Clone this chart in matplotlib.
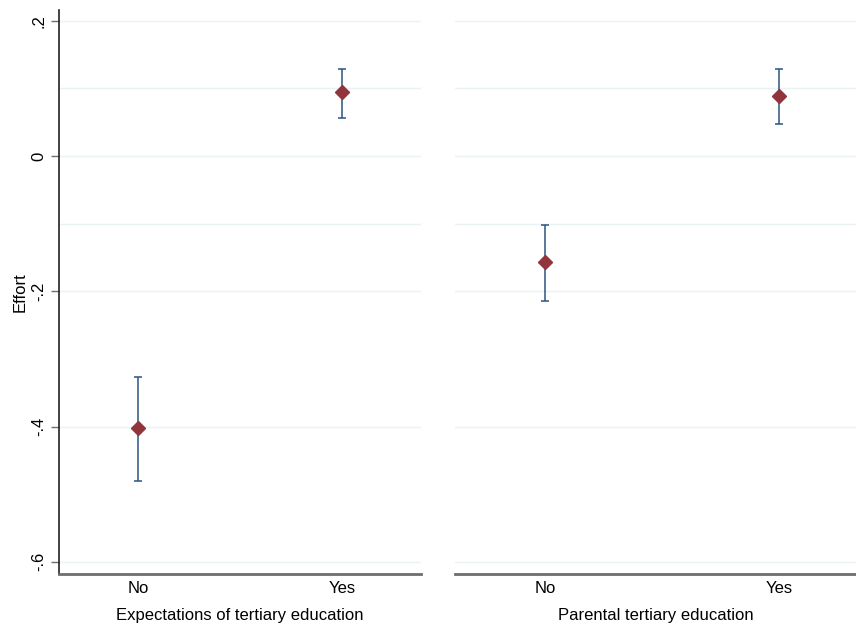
import matplotlib
matplotlib.use("Agg")
import matplotlib.pyplot as plt

plt.rcParams['font.family'] = ['Liberation Sans', 'DejaVu Sans']

# data
categories = ["No", "Yes"]
panel_titles = ["Expectations of tertiary education", "Parental tertiary education"]

exp_mean = [-0.402, 0.095]
exp_lo = [-0.481, 0.057]
exp_hi = [-0.326, 0.129]

par_mean = [-0.157, 0.089]
par_lo = [-0.214, 0.048]
par_hi = [-0.102, 0.129]

yticks = [0.2, 0.0, -0.2, -0.4, -0.6]
ytick_labels = [".2", "0", "-.2", "-.4", "-.6"]
grid_vals = [0.2, 0.1, 0.0, -0.1, -0.2, -0.4, -0.6]

marker_col = "#90353b"
bar_col = "#2a5580"
grid_col = "#eaf2f3"
axis_col = "#6e6e6e"

fig = plt.figure(figsize=(8.56, 6.25), dpi=100)
ax1 = fig.add_axes([59 / 856, 51 / 625, 362 / 856, 564 / 625])
ax2 = fig.add_axes([455 / 856, 51 / 625, 401 / 856, 564 / 625])


def draw_panel(ax, mean, lo, hi, xlabel, xlim):
    xs = list(range(len(categories)))
    for v in grid_vals:
        ax.axhline(v, color=grid_col, lw=1.0, zorder=0)
    yerr = [[m - l for m, l in zip(mean, lo)], [h - m for m, h in zip(mean, hi)]]
    ax.errorbar(xs, mean, yerr=yerr, fmt="none", ecolor=bar_col, elinewidth=1.1,
                capsize=3, capthick=1.1, zorder=2)
    ax.plot(xs, mean, "D", color=marker_col, ms=7.5, mec=marker_col, zorder=3)
    ax.set_xlim(*xlim)
    ax.set_ylim(-0.618, 0.216)
    ax.set_xticks(xs)
    ax.set_xticklabels(categories, fontsize=12)
    ax.tick_params(axis="x", length=0, pad=5)
    ax.set_xlabel(xlabel, fontsize=12, labelpad=9)
    for s in ["top", "right"]:
        ax.spines[s].set_visible(False)
    ax.spines["bottom"].set_color(axis_col)
    ax.spines["bottom"].set_linewidth(2)


draw_panel(ax1, exp_mean, exp_lo, exp_hi, panel_titles[0], (-0.387, 1.387))
draw_panel(ax2, par_mean, par_lo, par_hi, panel_titles[1], (-0.385, 1.328))

ax1.set_yticks(yticks)
ax1.set_yticklabels(ytick_labels, rotation=90, va="center", fontsize=12)
ax1.tick_params(axis="y", length=6, width=1, color=axis_col, pad=3)
ax1.spines["left"].set_color("#222222")
ax1.spines["left"].set_linewidth(1.2)
ax1.set_ylabel("Effort", fontsize=12, labelpad=3)

ax2.spines["left"].set_visible(False)
ax2.set_yticks([])

fig.savefig("out.png", dpi=100, facecolor="white")
